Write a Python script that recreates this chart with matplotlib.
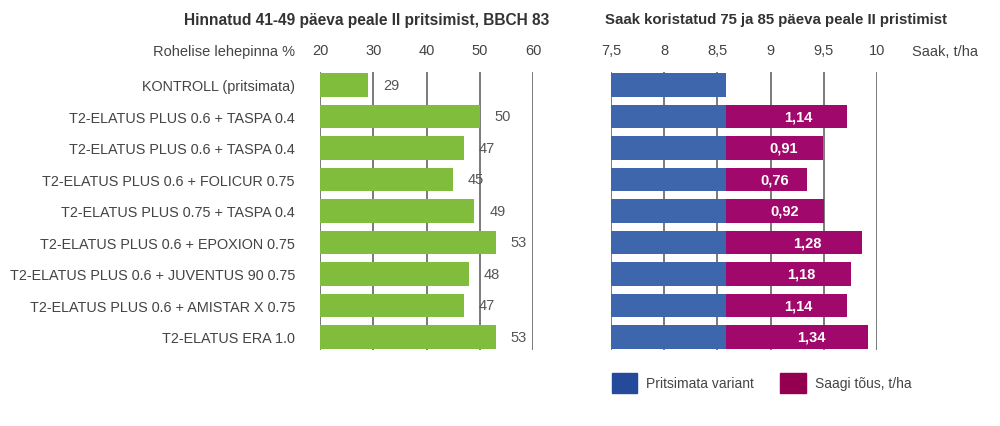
import matplotlib
matplotlib.use("Agg")
import matplotlib.pyplot as plt
from matplotlib.patches import Patch

plt.rcParams['font.family'] = ['Liberation Sans', 'DejaVu Sans']

categories = ["KONTROLL (pritsimata)",
              "T2-ELATUS PLUS 0.6 + TASPA 0.4",
              "T2-ELATUS PLUS 0.6 + TASPA 0.4",
              "T2-ELATUS PLUS 0.6 + FOLICUR 0.75",
              "T2-ELATUS PLUS 0.75 + TASPA 0.4",
              "T2-ELATUS PLUS 0.6 + EPOXION 0.75",
              "T2-ELATUS PLUS 0.6 + JUVENTUS 90 0.75",
              "T2-ELATUS PLUS 0.6 + AMISTAR X 0.75",
              "T2-ELATUS ERA 1.0"]
green_area = [29, 50, 47, 45, 49, 53, 48, 47, 53]
base_yield = [8.58, 8.58, 8.58, 8.58, 8.58, 8.58, 8.58, 8.58, 8.58]
yield_increase = [0, 1.14, 0.91, 0.76, 0.92, 1.28, 1.18, 1.14, 1.34]
left_ticks = [20, 30, 40, 50, 60]
right_ticks = [7.5, 8, 8.5, 9, 9.5, 10]
right_ticklabels = ["7,5", "8", "8,5", "9", "9,5", "10"]

GREEN = "#80bd3c"
BLUE = "#3d66ad"
MAGENTA = "#a0096b"
GRID = "#707070"
TXT = "#444444"

fig = plt.figure(figsize=(10, 4.27), dpi=100)
bottom = 1 - 350.6 / 427
height = (350.6 - 73.4) / 427
ax1 = fig.add_axes([0.320, bottom, 0.213, height])
ax2 = fig.add_axes([0.611, bottom, 0.266, height])

rows = list(range(len(categories)))

# left chart - green leaf area
for t in left_ticks:
    ax1.axvline(t, color=GRID, lw=1.3, zorder=0)
ax1.barh(rows, [v - 20 for v in green_area], left=20, height=0.75, color=GREEN, zorder=2)
for r, v in zip(rows, green_area):
    ax1.text(v + 2.8, r, str(v), va="center", ha="left", fontsize=10.5, color="#555555")
ax1.set_xlim(20, 60)
ax1.set_ylim(8.4, -0.4)
ax1.set_xticks(left_ticks)
ax1.set_yticks(rows)
ax1.set_yticklabels(categories)

# right chart - yield
for t in right_ticks:
    ax2.axvline(t, color=GRID, lw=1.3, zorder=0)
ax2.barh(rows, [b - 7.5 for b in base_yield], left=7.5, height=0.75, color=BLUE, zorder=2)
for r, b, inc in zip(rows, base_yield, yield_increase):
    if inc > 0:
        ax2.barh(r, inc, left=b, height=0.75, color=MAGENTA, zorder=2)
        ax2.text(b + inc * 0.6, r, f"{inc:.2f}".replace(".", ","), va="center", ha="center",
                 fontsize=10.5, color="white", fontweight="bold", zorder=3)
ax2.set_xlim(7.5, 10)
ax2.set_ylim(8.4, -0.4)
ax2.set_xticks(right_ticks)
ax2.set_xticklabels(right_ticklabels)
ax2.set_yticks([])

for ax in (ax1, ax2):
    for s in ax.spines.values():
        s.set_visible(False)
    ax.xaxis.tick_top()
    ax.tick_params(axis="x", length=0, pad=11, labelsize=10.5, labelcolor=TXT)
    ax.tick_params(axis="y", length=0, pad=18, labelsize=10.4, labelcolor=TXT)

fig.text(0.295, 1 - 52 / 427, "Rohelise lehepinna %", ha="right", va="center", fontsize=10.5, color=TXT)
fig.text(0.912, 1 - 52 / 427, "Saak, t/ha", ha="left", va="center", fontsize=10.5, color=TXT)
fig.text(0.367, 1 - 20 / 427, "Hinnatud 41-49 päeva peale II pritsimist, BBCH 83",
         ha="center", va="center", fontsize=11.2, fontweight="bold", color="#333333")
fig.text(0.605, 1 - 20 / 427, "Saak koristatud 75 ja 85 päeva peale II pristimist",
         ha="left", va="center", fontsize=10.8, fontweight="bold", color="#333333")

handles = [Patch(facecolor="#244a9c", edgecolor="#244a9c", label="Pritsimata variant"),
           Patch(facecolor="#93004f", edgecolor="#93004f", label="Saagi tõus, t/ha")]
leg = fig.legend(handles=handles, loc="center left", bbox_to_anchor=(0.599, 1 - 384 / 427),
                 ncol=2, frameon=False, fontsize=10.0, handlelength=1.85, handleheight=1.9,
                 handletextpad=0.65, columnspacing=1.9)
for t in leg.get_texts():
    t.set_color(TXT)

fig.savefig("out.png", dpi=100)
